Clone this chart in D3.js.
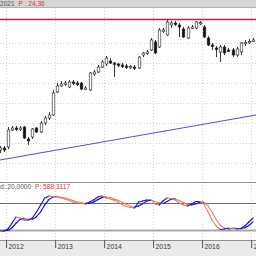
<!DOCTYPE html>
<html>
<head>
<meta charset="utf-8">
<script src="https://cdn.jsdelivr.net/npm/d3@7"></script>
<style>
  body { margin: 0; background: #fff; }
  svg { display: block; font-family: "Liberation Sans", Arial, sans-serif; }
</style>
</head>
<body>
<svg width="256" height="256"></svg>
<script>
// monthly candles, first one = Nov 2011
const startMonth = [2011, 10];
const opens  = [11.3,11.5,11.6,13.3,13.5,13.4,13.6,12.4,12.6,13.5,13.1,14.0,14.5,14.8,17.1,17.7,17.9,17.6,18.1,18.0,18.0,17.4,17.3,18.9,19.1,19.6,19.9,20.2,20.0,19.9,19.8,19.7,19.6,19.6,19.5,20.8,21.0,21.3,22.1,21.6,23.2,22.8,23.8,24.0,23.8,23.4,22.5,23.5,23.5,24.0,23.6,22.5,21.8,21.5,21.1,21.6,21.3,21.3,20.8,21.1,22.0,22.1,22.2];
const highs  = [11.7,11.7,13.6,13.7,13.7,13.7,13.7,12.6,13.5,13.6,14.2,14.7,15.1,17.3,18.0,18.2,18.2,18.3,18.3,18.2,18.1,17.7,19.1,19.3,19.8,20.3,20.7,20.5,20.1,20.0,20.0,19.9,19.8,19.8,20.7,21.1,21.3,22.5,22.3,23.5,23.5,24.3,24.2,24.2,24.0,23.6,23.7,23.8,24.2,24.2,23.8,22.7,22.0,21.7,21.8,21.8,21.5,21.5,21.6,22.1,22.3,22.4,22.5];
const lows   = [11.0,11.1,11.4,13.2,13.2,13.2,12.4,11.8,12.4,13.0,13.0,13.8,14.3,14.7,17.0,17.6,17.7,17.5,17.8,17.7,17.3,17.3,17.2,18.7,19.0,19.5,19.7,19.9,18.6,19.6,19.5,19.4,19.4,19.3,19.4,20.6,20.8,21.2,20.9,21.5,23.0,22.7,23.5,23.7,22.6,22.5,22.4,23.4,23.4,23.8,22.5,21.7,21.3,20.6,20.1,20.8,21.1,20.6,20.6,20.8,21.7,21.9,22.1];
const closes = [11.5,11.3,13.3,13.5,13.4,13.5,12.5,12.2,13.4,13.1,14.0,14.5,14.8,17.0,17.7,17.9,18.0,18.1,18.0,17.9,17.4,17.5,19.0,19.1,19.6,20.1,20.5,20.0,19.9,19.8,19.7,19.6,19.65,19.5,20.6,21.0,21.1,22.3,21.0,23.3,23.3,24.1,24.0,23.9,23.6,22.6,23.5,23.6,24.1,24.05,22.6,21.8,21.75,21.45,21.6,21.0,21.25,20.8,21.4,22.0,22.05,22.15,22.3];

// oscillator (0..100), two lines
const oscK = [17.8,17.8,22,35.6,48.9,46.7,42.2,42.2,46.7,60,75.6,91,95.6,94.4,93.3,91,88.9,85.6,82.2,80,78.9,77.8,82.2,86.7,93.3,95.6,91,88.9,86.7,82.2,76.7,72.2,70,68.9,82.2,84.4,86.7,86.7,77.8,75.6,84.4,91,90,86.7,80,75.6,73.3,77.8,83.3,83.3,77.8,60,42.2,28.9,21.1,22.2,24.4,23.3,22.2,23.3,28.9,37.8,46.7];
const oscD = [20,18.5,19,25,35,43.5,46,44,43.5,49.5,60.5,75.5,87.5,93.5,94.5,93,91,88.5,85.5,82.5,80.5,79,79.5,82,87.5,92,93.5,92,89,86,82,77,73,70.5,73.5,78.5,84.5,86,83.5,80,79,83.5,88.5,89,85.5,80.5,76.5,75.5,78,81.5,81.5,73.5,60,43.5,30.5,24,22.5,23.5,23.5,23,25,30,38];

const years = [2012, 2013, 2014, 2015, 2016, 2017];
const priceTicks = [10, 12, 14, 16, 18, 20, 22];
const resistance = 24.36;
const trendPts = [[new Date(2011, 10, 17), 10.3], [new Date(2017, 1, 6), 14.8]];
const oscLevels = [80, 20];

const svg = d3.select("svg");
const W = 256;

const main = { top: 7, bottom: 182 };
const osc  = { top: 183, bottom: 240 };

const x = d3.scaleTime()
  .domain([new Date(2011, 10, 17), new Date(2017, 1, 6)])
  .range([0, W]);
const y = d3.scaleLinear().domain([8.1, 25.6]).range([main.bottom, main.top]);
const yo = d3.scaleLinear().domain([0, 100]).range([239, 194]);

const candles = opens.map((o, i) => ({
  date: new Date(startMonth[0], startMonth[1] + i, 15),
  o: o, h: highs[i], l: lows[i], c: closes[i]
}));

// header bar
svg.append("rect").attr("x", 0).attr("y", 0).attr("width", W).attr("height", 7).attr("fill", "#d6d6d6");
svg.append("line").attr("x1", 0).attr("x2", W).attr("y1", 7.5).attr("y2", 7.5).attr("stroke", "#b0b0b0");
let ht = svg.append("text").attr("x", 0).attr("y", 6).attr("font-size", 6.6);
ht.append("tspan").attr("fill", "#555").text("2021 ");
ht.append("tspan").attr("fill", "#e03030").attr("dx", 2).text("P : 24,36");

// grid
const grid = svg.append("g").attr("stroke", "#d0d0d0").attr("stroke-dasharray", "1,2");
grid.selectAll(".vg").data(years).enter().append("line")
  .attr("x1", d => Math.round(x(new Date(d, 0, 1))) + 0.5)
  .attr("x2", d => Math.round(x(new Date(d, 0, 1))) + 0.5)
  .attr("y1", main.top + 1).attr("y2", osc.bottom);
grid.selectAll(".hg").data(priceTicks).enter().append("line")
  .attr("x1", 0).attr("x2", W)
  .attr("y1", d => Math.round(y(d)) + 0.5).attr("y2", d => Math.round(y(d)) + 0.5);

// resistance line
svg.append("line").attr("x1", 0).attr("x2", W)
  .attr("y1", y(resistance)).attr("y2", y(resistance))
  .attr("stroke", "#d42020").attr("stroke-width", 1.5);

// trend line
svg.append("path").datum(trendPts)
  .attr("d", d3.line().x(d => x(d[0])).y(d => y(d[1])))
  .attr("stroke", "#5050d0").attr("stroke-width", 1).attr("fill", "none");

// candles
const cg = svg.append("g");
cg.selectAll(".wick").data(candles).enter().append("line")
  .attr("x1", d => Math.round(x(d.date)) + 0.5)
  .attr("x2", d => Math.round(x(d.date)) + 0.5)
  .attr("y1", d => y(d.h)).attr("y2", d => y(d.l))
  .attr("stroke", "#222").attr("stroke-width", 0.9);
cg.selectAll(".body").data(candles).enter().append("rect")
  .attr("x", d => Math.round(x(d.date)) - 0.8)
  .attr("width", 2.6)
  .attr("y", d => Math.min(y(d.o), y(d.c)))
  .attr("height", d => Math.max(1.4, Math.abs(y(d.o) - y(d.c))))
  .attr("fill", d => d.c >= d.o ? "#fff" : "#111")
  .attr("stroke", "#222").attr("stroke-width", 0.6);

// oscillator panel
svg.append("line").attr("x1", 0).attr("x2", W).attr("y1", 182.5).attr("y2", 182.5).attr("stroke", "#909090");
let ot = svg.append("text").attr("x", 0).attr("y", 189).attr("font-size", 6.6);
ot.append("tspan").attr("fill", "#555").text("d: 20,0000 ");
ot.append("tspan").attr("fill", "#e03030").attr("dx", 2).text("P: 588,3117");

svg.append("line").attr("x1", 0).attr("x2", W)
  .attr("y1", Math.round(yo(oscLevels[0])) + 0.5).attr("y2", Math.round(yo(oscLevels[0])) + 0.5)
  .attr("stroke", "#707070");
svg.append("line").attr("x1", 0).attr("x2", W)
  .attr("y1", Math.round(yo(oscLevels[1])) + 0.5).attr("y2", Math.round(yo(oscLevels[1])) + 0.5)
  .attr("stroke", "#a8a8a8").attr("stroke-width", 2);

function drawOsc(vals, width) {
  const pts = vals.map((v, i) => [x(candles[i].date), yo(v)]);
  for (let i = 0; i < pts.length - 1; i++) {
    const up = vals[i + 1] >= vals[i];
    svg.append("line")
      .attr("x1", pts[i][0]).attr("y1", pts[i][1])
      .attr("x2", pts[i + 1][0]).attr("y2", pts[i + 1][1])
      .attr("stroke", up ? "#1818d8" : "#e07a5a")
      .attr("stroke-width", up ? width : width * 0.85)
      .attr("stroke-linecap", "round");
  }
}
drawOsc(oscD, 1.2);
drawOsc(oscK, 1.2);

// bottom axis
svg.append("rect").attr("x", 0).attr("y", osc.bottom).attr("width", W).attr("height", 256 - osc.bottom).attr("fill", "#eaeaea");
svg.append("line").attr("x1", 0).attr("x2", W).attr("y1", osc.bottom + 0.5).attr("y2", osc.bottom + 0.5).attr("stroke", "#909090");

const axisX = d3.axisBottom(x)
  .tickValues(years.map(d => new Date(d, 0, 1)))
  .tickFormat(d3.timeFormat("%Y"))
  .tickSize(8).tickSizeOuter(0);
const ax = svg.append("g").attr("transform", `translate(0, ${osc.bottom})`).call(axisX);
ax.select(".domain").remove();
ax.selectAll("line").attr("stroke", "#555");
ax.selectAll("text")
  .attr("font-size", 6.8).attr("fill", "#333")
  .attr("text-anchor", "start").attr("x", 2).attr("y", 7).attr("dy", "0.3em")
  .style("font-family", "Liberation Sans, Arial, sans-serif");
</script>
</body>
</html>
